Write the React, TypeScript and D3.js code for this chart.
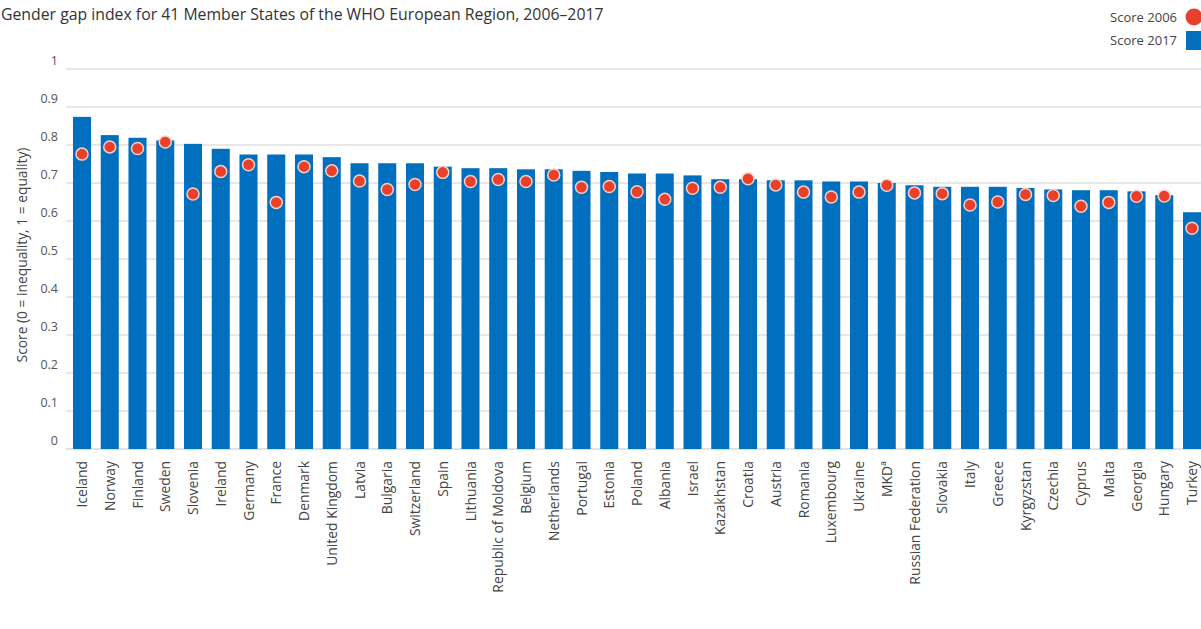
import React, { useLayoutEffect } from "react";
import * as d3 from "d3";

const countries = ["Iceland","Norway","Finland","Sweden","Slovenia","Ireland","Germany","France","Denmark","United Kingdom","Latvia","Bulgaria","Switzerland","Spain","Lithuania","Republic of Moldova","Belgium","Netherlands","Portugal","Estonia","Poland","Albania","Israel","Kazakhstan","Croatia","Austria","Romania","Luxembourg","Ukraine","MKDª","Russian Federation","Slovakia","Italy","Greece","Kyrgyzstan","Czechia","Cyprus","Malta","Georgia","Hungary","Turkey"];
const score2017 = [0.874,0.826,0.819,0.812,0.803,0.790,0.775,0.775,0.775,0.768,0.752,0.752,0.752,0.743,0.739,0.739,0.736,0.736,0.732,0.729,0.725,0.725,0.720,0.710,0.710,0.707,0.707,0.704,0.704,0.700,0.694,0.690,0.690,0.690,0.687,0.683,0.681,0.681,0.678,0.668,0.623];
const score2006 = [0.776,0.795,0.791,0.808,0.671,0.730,0.748,0.649,0.743,0.732,0.705,0.683,0.696,0.728,0.704,0.709,0.704,0.721,0.689,0.691,0.677,0.657,0.686,0.689,0.711,0.695,0.676,0.663,0.676,0.694,0.674,0.672,0.642,0.650,0.670,0.667,0.639,0.649,0.665,0.666,0.581];
const yTicks = [0,0.1,0.2,0.3,0.4,0.5,0.6,0.7,0.8,0.9,1];
const yTickLabels = ["0","0.1","0.2","0.3","0.4","0.5","0.6","0.7","0.8","0.9","1"];

const W = 1201, H = 629;
const FONT = "'Open Sans', sans-serif";
const BLUE = "#006fbd";
const RED = "#e8402a";

export default function App() {
  useLayoutEffect(() => {
    document.body.style.margin = "0";
  }, []);
  const step = 27.75;
  const x = d3.scaleBand<string>().domain(countries)
    .range([82 - step / 2, 82 - step / 2 + step * countries.length])
    .paddingInner(0.35).paddingOuter(0.175);
  const y = d3.scaleLinear().domain([0, 1]).range([449, 69]);

  return (
    <svg width={W} height={H} style={{ display: "block", fontFamily: FONT }}>
      <text x={1} y={20} fontSize={15.8} fill="#333">Gender gap index for 41 Member States of the WHO European Region, 2006–2017</text>
      {/* legend */}
      <text x={1177} y={22} fontSize={13} fill="#444" textAnchor="end">Score 2006</text>
      <circle cx={1194} cy={17} r={8.5} fill={RED} />
      <text x={1177} y={45} fontSize={13} fill="#444" textAnchor="end">Score 2017</text>
      <rect x={1186} y={31} width={16} height={19} fill={BLUE} />
      {/* grid */}
      {yTicks.map((t, i) => (
        <g key={i}>
          <line x1={66} x2={W} y1={y(t)} y2={y(t)} stroke={i === 0 ? "#c4c4c4" : "#cfcfcf"} strokeWidth={1} />
          <text x={58} y={y(t) - 4} fontSize={12.5} fill="#555" textAnchor="end">{yTickLabels[i]}</text>
        </g>
      ))}
      <text transform={`translate(27,255) rotate(-90)`} fontSize={13.8} fill="#444" textAnchor="middle">Score (0 = inequality, 1 = equality)</text>
      {/* bars */}
      {countries.map((c, i) => (
        <rect key={c} x={x(c)} y={y(score2017[i])} width={x.bandwidth()} height={y(0) - y(score2017[i])} fill={BLUE} />
      ))}
      {countries.map((c, i) => (
        <circle key={c + "d"} cx={(x(c) as number) + x.bandwidth() / 2} cy={y(score2006[i])} r={6} fill={RED} stroke="#f6d0c8" strokeWidth={1.5} />
      ))}
      {/* x labels */}
      {countries.map((c) => (
        <text key={c + "l"} transform={`translate(${(x(c) as number) + x.bandwidth() / 2 + 5},461) rotate(-90)`} fontSize={13.9} fill="#444" textAnchor="end">{c}</text>
      ))}
    </svg>
  );
}
